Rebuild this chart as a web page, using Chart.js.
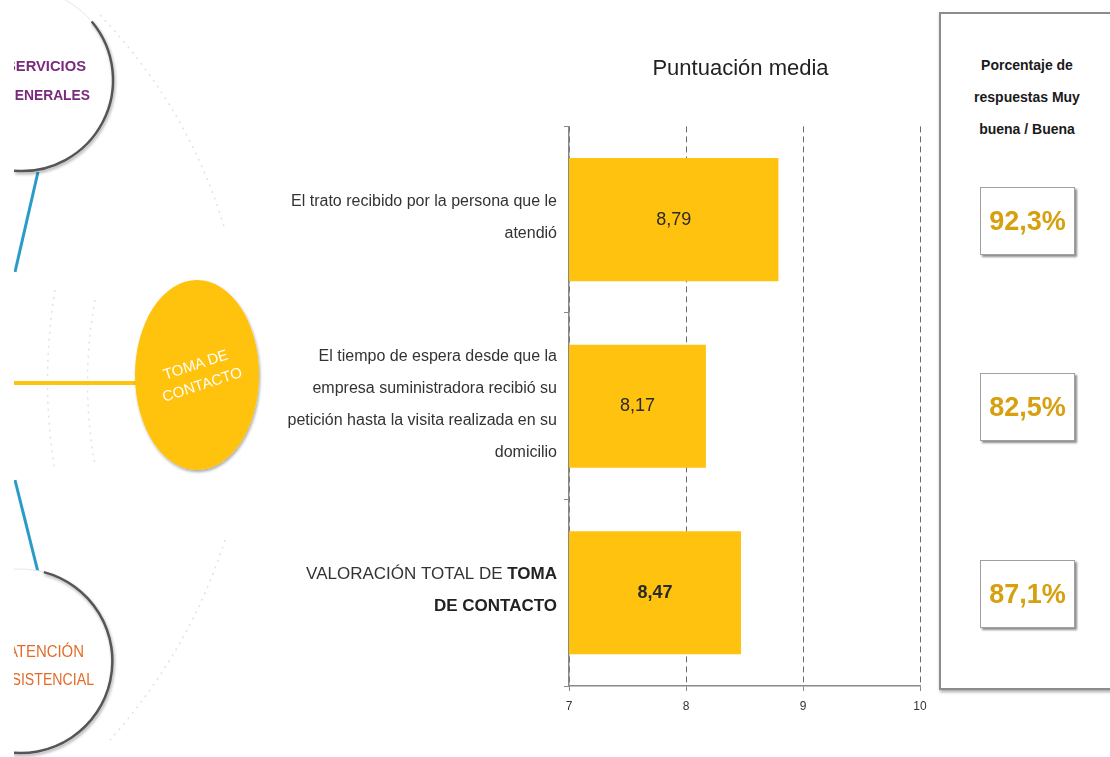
<!DOCTYPE html>
<html lang="es">
<head>
<meta charset="UTF-8">
<title>Puntuación media - Toma de contacto</title>
<script src="https://cdn.jsdelivr.net/npm/chart.js"></script>
<style>
  html, body { margin: 0; padding: 0; background: #fff; }
  #wrap { position: relative; width: 1110px; height: 757px; overflow: hidden;
          font-family: 'Liberation Sans Narrow', 'Liberation Sans', sans-serif; }
  #chartCanvas { position: absolute; left: 0; top: 0; }
  #deco { position: absolute; left: 0; top: 0; }
  #panel { position: absolute; left: 939px; top: 12px; width: 200px; height: 674px;
           border: 2px solid #8c8c8c; box-shadow: 1px 2px 3px rgba(0,0,0,0.35); background: #fff; }
  #panelTitle { position: absolute; left: 962px; top: 49px; width: 130px; text-align: center;
                font-weight: bold; font-size: 14px; line-height: 32px; color: #1a1a1a; }
  .pct { position: absolute; left: 980px; width: 95px; height: 68px; box-sizing: border-box;
         border: 1px solid #a0a0a0; box-shadow: 2px 2px 2px rgba(0,0,0,0.45); background: #fff;
         text-align: center; line-height: 66px; font-weight: bold; font-size: 27px; color: #D6A00E; }
</style>
</head>
<body>
<div id="wrap">
  <!-- panel on the right -->
  <div id="panel"></div>
  <div id="panelTitle">Porcentaje de respuestas Muy buena / Buena</div>

  <canvas id="chartCanvas" width="1110" height="757"></canvas>

  <!-- decorative map on the left -->
  <svg id="deco" width="280" height="757">
    <defs>
      <clipPath id="clipL"><rect x="14" y="0" width="266" height="757"/></clipPath>
      <filter id="sh" x="-20%" y="-20%" width="140%" height="140%">
        <feDropShadow dx="1" dy="2" stdDeviation="1.5" flood-opacity="0.35"/>
      </filter>
    </defs>
    <g fill="none" stroke="#e2e2e2" stroke-width="1.5" stroke-dasharray="2 5">
      <path d="M100 15 Q 190 110 225 230"/>
      <path d="M225 540 Q 190 650 110 740"/>
      <path d="M55 290 Q 40 383 55 470"/>
      <path d="M95 300 Q 80 383 95 465"/>
    </g>
    <g clip-path="url(#clipL)">
      <line x1="38" y1="172" x2="15" y2="272" stroke="#2A9BC8" stroke-width="3"/>
      <line x1="15" y1="480" x2="38" y2="572" stroke="#2A9BC8" stroke-width="3"/>
      <line x1="14" y1="383" x2="136" y2="383" stroke="#FFC20E" stroke-width="4"/>

      <circle cx="22" cy="80" r="91" fill="#fff" stroke="#e6e6e6" stroke-width="1"/>
      <path d="M91.7 21.5 A 91 91 0 0 1 14.1 170.7" fill="none" stroke="#555" stroke-width="2.5" filter="url(#sh)"/>
      <g font-weight="bold" font-size="15" fill="#7A2A7C" text-anchor="end">
        <text x="86" y="71" textLength="80" lengthAdjust="spacingAndGlyphs">SERVICIOS</text>
        <text x="90" y="100" textLength="86" lengthAdjust="spacingAndGlyphs">GENERALES</text>
      </g>

      <circle cx="20" cy="661" r="92" fill="#fff" stroke="#e6e6e6" stroke-width="1"/>
      <path d="M43.8 572.1 A 92 92 0 0 1 4 751.6" fill="none" stroke="#555" stroke-width="2.5" filter="url(#sh)"/>
      <g font-size="16" fill="#E36C2A" text-anchor="end">
        <text x="84" y="657" textLength="76" lengthAdjust="spacingAndGlyphs">ATENCIÓN</text>
        <text x="94" y="685" textLength="92" lengthAdjust="spacingAndGlyphs">ASISTENCIAL</text>
      </g>
    </g>
    <ellipse cx="197" cy="375" rx="62" ry="95" fill="#FFC20E" filter="url(#sh)"/>
    <g transform="rotate(-18 199 375)" font-family="'Liberation Sans', sans-serif" font-size="15"
       fill="#fff" text-anchor="middle">
      <text x="199" y="369">TOMA DE</text>
      <text x="199" y="390">CONTACTO</text>
    </g>
  </svg>
</div>

<script>
  // Data
  const categories = [
    ['El trato recibido por la persona que le', 'atendió'],
    ['El tiempo de espera desde que la', 'empresa suministradora recibió su',
     'petición hasta la visita realizada en su', 'domicilio'],
    ['VALORACIÓN TOTAL DE TOMA', 'DE CONTACTO']
  ];
  const scores = [8.79, 8.17, 8.47];
  const pctGoodVeryGood = [92.3, 82.5, 87.1];
  const xTicks = [7, 8, 9, 10];
  const totalHighlight = 'TOMA DE CONTACTO';   // bold part of the total row

  const FONT = "'Liberation Sans Narrow', 'Liberation Sans', sans-serif";
  const BAR_COLOR = '#FFC20E';
  const TOTAL_ROW = categories.length - 1;

  const fmt = (v, d) => v.toFixed(d).replace('.', ',');

  // Category labels drawn at the left of the axis (total row partly bold)
  const categoryLabels = {
    id: 'categoryLabels',
    afterDraw(chart) {
      const ctx = chart.ctx;
      const yScale = chart.scales.y;
      const right = chart.chartArea.left - 12;
      ctx.save();
      ctx.textBaseline = 'middle';
      ctx.fillStyle = '#333';
      categories.forEach((lines, i) => {
        const yc = yScale.getPixelForValue(i);
        const lh = 32;
        const size = i === TOTAL_ROW ? 17 : 16;
        const y0 = yc - (lines.length - 1) * lh / 2 - 2;
        lines.forEach((line, j) => {
          const y = y0 + j * lh;
          if (i !== TOTAL_ROW) {
            ctx.font = `${size}px ${FONT}`;
            ctx.textAlign = 'right';
            ctx.fillStyle = '#333';
            ctx.fillText(line, right, y);
            return;
          }
          // split the line into plain + bold parts
          const full = categories[i].join(' ');
          const boldStart = full.indexOf(totalHighlight);
          const offset = categories[i].slice(0, j).reduce((s, l) => s + l.length + 1, 0);
          const cut = Math.max(0, Math.min(line.length, boldStart - offset));
          const plain = line.slice(0, cut);
          const bold = line.slice(cut);
          ctx.textAlign = 'left';
          ctx.font = `bold ${size}px ${FONT}`;
          const wb = ctx.measureText(bold).width;
          ctx.font = `${size}px ${FONT}`;
          const wp = ctx.measureText(plain).width;
          ctx.fillStyle = '#333';
          ctx.fillText(plain, right - wb - wp, y);
          ctx.font = `bold ${size}px ${FONT}`;
          ctx.fillStyle = '#222';
          ctx.fillText(bold, right - wb, y);
        });
      });
      ctx.restore();
    }
  };

  // Value inside each bar
  const barValues = {
    id: 'barValues',
    afterDatasetsDraw(chart) {
      const ctx = chart.ctx;
      const meta = chart.getDatasetMeta(0);
      const left = chart.chartArea.left;
      ctx.save();
      ctx.textAlign = 'center';
      ctx.textBaseline = 'middle';
      meta.data.forEach((bar, i) => {
        const start = Math.max(bar.base, left);
        ctx.font = (i === TOTAL_ROW ? 'bold ' : '') + `18px ${FONT}`;
        ctx.fillStyle = '#2a2a2a';
        ctx.fillText(fmt(scores[i], 2), (bar.x + start) / 2, bar.y);
      });
      ctx.restore();
    }
  };

  Chart.defaults.font.family = FONT;

  const chart = new Chart(document.getElementById('chartCanvas').getContext('2d'), {
    type: 'bar',
    data: {
      labels: categories,
      datasets: [{
        data: scores,
        backgroundColor: BAR_COLOR,
        barPercentage: 1,
        categoryPercentage: 0.66
      }]
    },
    options: {
      responsive: false,
      animation: false,
      indexAxis: 'y',
      layout: { padding: { left: 561, right: 190, top: 0, bottom: 31 } },
      plugins: {
        legend: { display: false },
        tooltip: { enabled: false },
        title: {
          display: true,
          text: 'Puntuación media',
          color: '#222',
          font: { family: FONT, size: 22, weight: 'normal' },
          padding: { top: 56, bottom: 44 }
        }
      },
      scales: {
        x: {
          min: xTicks[0],
          max: xTicks[xTicks.length - 1],
          afterBuildTicks: s => { s.ticks = xTicks.map(v => ({ value: v })); },
          afterFit: s => { s.height = 40; },
          ticks: { color: '#333', font: { size: 12 }, padding: 8 },
          grid: { color: '#6a6a6a', tickLength: 5, tickColor: '#888', lineWidth: 1 },
          border: { color: '#888', width: 1.5, dash: [6, 4] }
        },
        y: {
          afterFit: s => { s.width = 8; },
          ticks: { display: false },
          grid: { drawOnChartArea: false, tickLength: 5, color: '#888' },
          border: { color: '#888', width: 1.5 }
        }
      }
    },
    plugins: [categoryLabels, barValues]
  });

  // Percentage boxes aligned with each bar
  const wrap = document.getElementById('wrap');
  pctGoodVeryGood.forEach((p, i) => {
    const box = document.createElement('div');
    box.className = 'pct';
    box.style.top = (chart.scales.y.getPixelForValue(i) - 33) + 'px';
    box.textContent = fmt(p, 1) + '%';
    wrap.appendChild(box);
  });
</script>
</body>
</html>
